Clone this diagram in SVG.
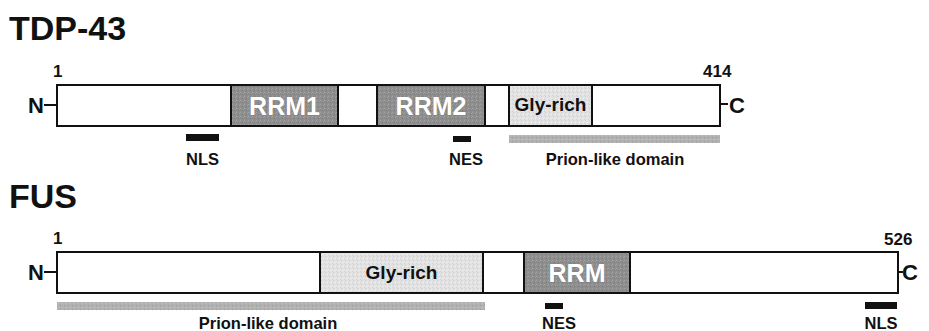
<svg xmlns="http://www.w3.org/2000/svg" width="929" height="331" viewBox="0 0 929 331">
  <style>
    text { font-family: "Liberation Sans", Arial, sans-serif; font-weight: bold; fill: #111; }
    .title { font-size: 34px; }
    .num { font-size: 17px; }
    .term { font-size: 22px; }
    .lbl { font-size: 16.5px; text-anchor: middle; }
    .dom { font-size: 19px; text-anchor: middle; }
    .rrm { font-size: 25px; text-anchor: middle; fill: #fff; stroke: #777; stroke-width: 0.6px; paint-order: stroke; }
    .plain { fill: #fff; stroke: #111; stroke-width: 2; }
    .rrmbox { fill: url(#darkGrain); stroke: #111; stroke-width: 2; }
    .glybox { fill: url(#lightGrain); stroke: #111; stroke-width: 2; }
    .signal { fill: #111; }
    .prion { fill: url(#prionGrain); }
    .tick { stroke: #111; stroke-width: 2; fill: none; }
  </style>
  <defs>
    <pattern id="darkGrain" width="4" height="4" patternUnits="userSpaceOnUse">
      <rect width="4" height="4" fill="#8e8e8e"/>
      <rect x="0" y="0" width="1" height="1" fill="#a4a4a4"/>
      <rect x="2" y="2" width="1" height="1" fill="#7a7a7a"/>
      <rect x="3" y="1" width="1" height="1" fill="#9c9c9c"/>
    </pattern>
    <pattern id="lightGrain" width="4" height="4" patternUnits="userSpaceOnUse">
      <rect width="4" height="4" fill="#e2e2e2"/>
      <rect x="1" y="0" width="1" height="1" fill="#cfcfcf"/>
      <rect x="3" y="2" width="1" height="1" fill="#f2f2f2"/>
      <rect x="0" y="3" width="1" height="1" fill="#d4d4d4"/>
    </pattern>
    <pattern id="prionGrain" width="4" height="4" patternUnits="userSpaceOnUse">
      <rect width="4" height="4" fill="#b2b2b2"/>
      <rect x="0" y="1" width="1" height="1" fill="#9a9a9a"/>
      <rect x="2" y="3" width="1" height="1" fill="#c6c6c6"/>
    </pattern>
  </defs>

  <!-- TDP-43 -->
  <g id="tdp43">
    <text class="title" x="9" y="40">TDP-43</text>
    <text class="num" x="53" y="77">1</text>
    <text class="num" x="703" y="77">414</text>
    <text class="term" x="44" y="113" text-anchor="end">N</text>
    <text class="term" x="729" y="113">C</text>
    <g id="tdp43-chain">
      <rect class="plain" x="57" y="85" width="663" height="41"/>
      <g id="tdp43-rrm1">
        <rect class="rrmbox" x="231" y="85" width="107" height="41"/>
        <text class="rrm" x="284.5" y="115">RRM1</text>
      </g>
      <g id="tdp43-rrm2">
        <rect class="rrmbox" x="377" y="85" width="108" height="41"/>
        <text class="rrm" x="431" y="115">RRM2</text>
      </g>
      <g id="tdp43-gly">
        <rect class="glybox" x="509" y="85" width="83" height="41"/>
        <text class="dom" x="550.5" y="111">Gly-rich</text>
      </g>
    </g>
    <g id="tdp43-nls">
      <rect class="signal" x="186" y="134" width="33" height="7"/>
      <text class="lbl" x="202.5" y="165">NLS</text>
    </g>
    <g id="tdp43-nes">
      <rect class="signal" x="453" y="136" width="18" height="6"/>
      <text class="lbl" x="466" y="165">NES</text>
    </g>
    <g id="tdp43-prion">
      <rect class="prion" x="509" y="135" width="211" height="8"/>
      <text class="lbl" x="615" y="165">Prion-like domain</text>
    </g>
  </g>

  <!-- FUS -->
  <g id="fus">
    <text class="title" x="9" y="208">FUS</text>
    <text class="num" x="53" y="244">1</text>
    <text class="num" x="884" y="245">526</text>
    <text class="term" x="44" y="280" text-anchor="end">N</text>
    <text class="term" x="902" y="280">C</text>
    <g id="fus-chain">
      <rect class="plain" x="57" y="252" width="841" height="41"/>
      <g id="fus-gly">
        <rect class="glybox" x="320" y="252" width="163" height="41"/>
        <text class="dom" x="401.5" y="279">Gly-rich</text>
      </g>
      <g id="fus-rrm">
        <rect class="rrmbox" x="524" y="252" width="106" height="41"/>
        <text class="rrm" x="577" y="282">RRM</text>
      </g>
    </g>
    <g id="fus-prion">
      <rect class="prion" x="57" y="302" width="428" height="8"/>
      <text class="lbl" x="268" y="329">Prion-like domain</text>
    </g>
    <g id="fus-nes">
      <rect class="signal" x="545" y="303" width="18" height="6"/>
      <text class="lbl" x="559" y="329">NES</text>
    </g>
    <g id="fus-nls">
      <rect class="signal" x="865" y="302" width="32" height="7"/>
      <text class="lbl" x="881" y="329">NLS</text>
    </g>
  </g>

  <!-- terminal ticks joining N/C labels to the chains -->
  <g id="connectors">
    <line class="tick" x1="44" y1="105" x2="57" y2="105"/>
    <line class="tick" x1="720" y1="104" x2="728" y2="104"/>
    <line class="tick" x1="44" y1="272" x2="57" y2="272"/>
    <line class="tick" x1="898" y1="272" x2="903" y2="272"/>
  </g>
</svg>
